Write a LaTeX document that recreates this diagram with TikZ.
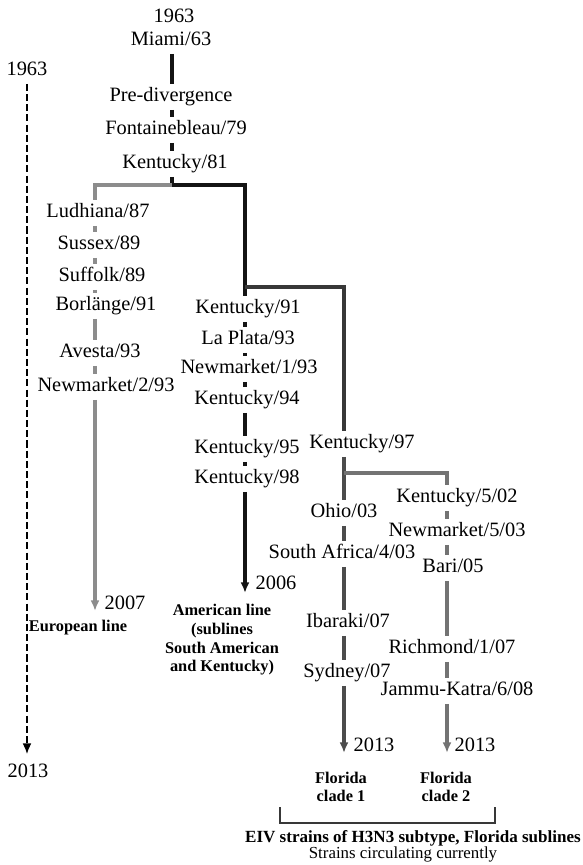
\documentclass[tikz,border=0pt]{standalone}
\usepackage{fontspec}
\setmainfont{Liberation Serif}
\usetikzlibrary{arrows.meta}

\definecolor{eurgrey}{gray}{0.55}
\definecolor{amblack}{gray}{0.08}
\definecolor{kydark}{gray}{0.22}
\definecolor{cladeone}{gray}{0.3}
\definecolor{cladetwo}{gray}{0.45}

\begin{document}
\begin{tikzpicture}[x=0.02cm, y=-0.02cm,
    strain/.style={inner xsep=1pt, inner ysep=2.7pt, text height=0.68em, text depth=0.2em,
      font=\fontsize{11.6}{13}\selectfont},
    caption/.style={font=\fontsize{9.3}{10.6}\selectfont\bfseries, align=center, inner sep=0pt},
    branch/.style={line width=2pt},
    tip/.style={-{Latex[length=6pt,width=5pt]}}]

  \useasboundingbox (0,0) rectangle (582,865);

  % Columns of the lines
  \coordinate (cT) at (172,0);
  \coordinate (cE) at (95,0);
  \coordinate (cA) at (245,0);
  \coordinate (cO) at (344,0);
  \coordinate (cW) at (447,0);

  % Strains
  \foreach \name/\x/\y/\txt in {top/174/18/1963, miami/171/41/{Miami/63}, predv/171/97/Pre-divergence,
      fontb/176/130/{Fontainebleau/79}, k81/175/164/{Kentucky/81},
      lud/98/213/{Ludhiana/87}, sus/99/245/{Sussex/89}, suf/102/277/{Suffolk/89},
      bor/106/306/{Borlänge/91}, ave/100/353/{Avesta/93}, nmb/106/387/{Newmarket/2/93},
      k91/248/309/{Kentucky/91}, lpl/248/340/{La Plata/93}, nma/249/369/{Newmarket/1/93},
      k94/247/400/{Kentucky/94}, k95/247/449/{Kentucky/95}, k98/247/479/{Kentucky/98},
      k97/362/444/{Kentucky/97}, ohio/344/513/{Ohio/03}, saf/342/554/{South Africa/4/03},
      iba/348/623/{Ibaraki/07}, syd/347/673/{Sydney/07},
      kyb/457/498/{Kentucky/5/02}, nmc/457/532/{Newmarket/5/03}, bari/453/568/{Bari/05},
      rich/452/649/{Richmond/1/07}, jam/457/691/{Jammu-Katra/6/08}} {
    \node[strain] (\name) at (\x,\y) {\txt};
  }

  % Years
  \foreach \name/\x/\y/\txt in {ystart/27/71/1963, yend/28/773/2013, yeur/125/605/2007,
      yam/276/585/2006, yone/374/747/2013, ytwo/475/747/2013} {
    \node[strain] (\name) at (\x,\y) {\txt};
  }

  % End points and junctions
  \coordinate (jT) at (172,185);
  \coordinate (jA) at (245,287);
  \coordinate (jO) at (344,473);
  \coordinate (eEnd) at (95,611);
  \coordinate (aEnd) at (245,593);
  \coordinate (oEnd) at (344,753);
  \coordinate (wEnd) at (447,753);
  \coordinate (tEnd) at (27,754);

  % Pre-divergence
  \foreach \a/\b in {miami/predv, predv/fontb, fontb/k81}
    \draw[branch, amblack] (\a.south -| cT) -- (\b.north -| cT);
  \draw[branch, amblack] (k81.south -| cT) -- (jT);

  % European line
  \draw[branch, eurgrey] (jT) -- (jT -| cE) -- (lud.north -| cE);
  \foreach \a/\b in {lud/sus, sus/suf, suf/bor, bor/ave, ave/nmb}
    \draw[branch, eurgrey] (\a.south -| cE) -- (\b.north -| cE);
  \draw[branch, tip, eurgrey] (nmb.south -| cE) -- (eEnd);

  % American line
  \draw[branch, amblack] (jT) -- (jT -| cA) -- (k91.north -| cA);
  \foreach \a/\b in {k91/lpl, lpl/nma, nma/k94, k94/k95, k95/k98}
    \draw[branch, amblack] (\a.south -| cA) -- (\b.north -| cA);
  \draw[branch, tip, amblack] (k98.south -| cA) -- (aEnd);

  % Florida clade 1
  \draw[branch, kydark] (jA) -- (jA -| cO) -- (k97.north -| cO);
  \foreach \a/\b in {k97/ohio, ohio/saf, saf/iba, iba/syd}
    \draw[branch, cladeone] (\a.south -| cO) -- (\b.north -| cO);
  \draw[branch, tip, cladeone] (syd.south -| cO) -- (oEnd);

  % Florida clade 2
  \draw[branch, cladetwo] (jO) -- (jO -| cW) -- (kyb.north -| cW);
  \foreach \a/\b in {kyb/nmc, nmc/bari, bari/rich, rich/jam}
    \draw[branch, cladetwo] (\a.south -| cW) -- (\b.north -| cW);
  \draw[branch, tip, cladetwo] (jam.south -| cW) -- (wEnd);

  % Time axis
  \draw[line width=0.8pt, dash pattern=on 4pt off 1.8pt, tip] (ystart.south) -- (tEnd);

  % Captions
  \node[caption] (eur) at (78,628) {European line};
  \node[caption] (amer) at (222,640) {American line\\(sublines\\South American\\and Kentucky)};
  \node[caption] (flone) at (341,787) {Florida\\clade 1};
  \node[caption] (fltwo) at (446,787) {Florida\\clade 2};

  % Bracket
  \coordinate (bl) at (280,807);
  \coordinate (br) at (495,807);
  \draw[line width=0.9pt, kydark] (bl) -- ++(0,16) -| (br);
  \node[caption, font=\fontsize{9.7}{11}\selectfont\bfseries] (eiv) at (413,838) {EIV strains of H3N3 subtype, Florida sublines};
  \node[inner sep=0pt, font=\fontsize{9.6}{11}\selectfont] (circ) at (403,854) {Strains circulating currently};

\end{tikzpicture}
\end{document}
